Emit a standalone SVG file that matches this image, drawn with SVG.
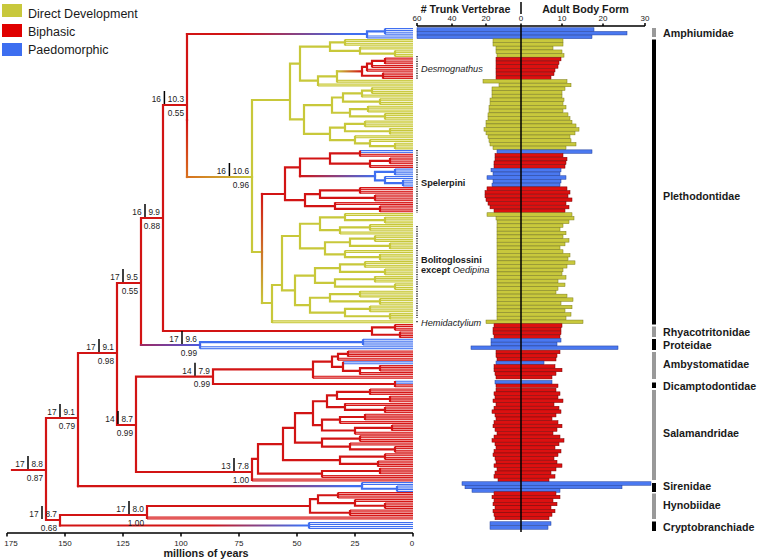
<svg xmlns="http://www.w3.org/2000/svg" width="757" height="560" viewBox="0 0 757 560">
<style>
.t{font-family:"Liberation Sans",Arial,sans-serif;fill:#1a1a1a}
.br{fill:none;stroke-width:2.2;stroke-linecap:square}
.y{stroke:#c8c83a}.r{stroke:#d21414}.b{stroke:#3f6ff0}
.to{fill:none;stroke-width:3}.ti{fill:none;stroke-width:1}
.yo{stroke:#c6c63c}.yi{stroke:#ecec9a}
.ro{stroke:#d41818}.ri{stroke:#f49a9a}
.bo{stroke:#3f6ff0}.bi{stroke:#dbe5ff}
.bY{fill:#c8c83c;stroke:#7d7d1a;stroke-width:.5}
.bR{fill:#dc1010;stroke:#7a0000;stroke-width:.5}
.bB{fill:#4a78f0;stroke:#1e3c9a;stroke-width:.5}
.ax{stroke:#000;stroke-width:1.5;fill:none}
.nb{stroke:#000;stroke-width:1.5}
.nl{font-size:8.3px}
.fl{font-size:10.7px;font-weight:bold}
.cl{font-size:9.2px}
.gr{fill:#999}.bk{fill:#000}
</style>
<defs>
<linearGradient id="gAm" gradientUnits="userSpaceOnUse" x1="187" y1="0" x2="367" y2="0"><stop offset="0.3" stop-color="#d21414"/><stop offset="0.9" stop-color="#3f6ff0"/></linearGradient>
<linearGradient id="gSi" gradientUnits="userSpaceOnUse" x1="78" y1="0" x2="362" y2="0"><stop offset="0.55" stop-color="#d21414"/><stop offset="0.95" stop-color="#3f6ff0"/></linearGradient>
<linearGradient id="gCr" gradientUnits="userSpaceOnUse" x1="60" y1="0" x2="309" y2="0"><stop offset="0.6" stop-color="#d21414"/><stop offset="0.97" stop-color="#3f6ff0"/></linearGradient>
<linearGradient id="gPr" gradientUnits="userSpaceOnUse" x1="141" y1="0" x2="200" y2="0"><stop offset="0" stop-color="#a02860"/><stop offset="1" stop-color="#4a5ae0"/></linearGradient>
<linearGradient id="gFv" gradientUnits="userSpaceOnUse" x1="0" y1="120" x2="0" y2="177"><stop offset="0" stop-color="#d21414"/><stop offset="1" stop-color="#d8701e"/></linearGradient>
<linearGradient id="gPl" gradientUnits="userSpaceOnUse" x1="187" y1="0" x2="252" y2="0"><stop offset="0" stop-color="#d8701e"/><stop offset="1" stop-color="#c8c83a"/></linearGradient>
<linearGradient id="gK" gradientUnits="userSpaceOnUse" x1="0" y1="194" x2="0" y2="303"><stop offset="0" stop-color="#d21414"/><stop offset="1" stop-color="#c8c83a"/></linearGradient>
<linearGradient id="gDe" gradientUnits="userSpaceOnUse" x1="337" y1="0" x2="362" y2="0"><stop offset="0" stop-color="#c8c83a"/><stop offset="1" stop-color="#d21414"/></linearGradient>
<linearGradient id="gSpb" gradientUnits="userSpaceOnUse" x1="300" y1="0" x2="375" y2="0"><stop offset="0" stop-color="#d21414"/><stop offset="1" stop-color="#3f6ff0"/></linearGradient>
<path id="tY" d="M345 40.6H413 M345 44.3H413 M360 48H413 M395 51.7H413 M395 55.4H413 M337 81.3H413 M318 85H413 M372 88.7H413 M372 92.4H413 M362 96.1H413 M380 99.8H413 M380 103.5H413 M368 107.2H413 M368 110.9H413 M385 114.6H413 M385 118.3H413 M365 122H413 M365 125.7H413 M390 129.4H413 M390 133.1H413 M355 136.8H413 M370 140.5H413 M395 144.2H413 M395 147.9H413 M345 214.5H413 M385 218.2H413 M385 221.9H413 M370 225.6H413 M370 229.3H413 M340 233H413 M375 236.7H413 M375 240.4H413 M390 244.1H413 M390 247.8H413 M345 251.5H413 M380 255.2H413 M380 258.9H413 M365 262.6H413 M365 266.3H413 M385 270H413 M385 273.7H413 M375 277.4H413 M375 281.1H413 M395 284.8H413 M395 288.5H413 M360 292.2H413 M360 295.9H413 M380 299.6H413 M380 303.3H413 M370 307H413 M370 310.7H413 M390 314.4H413 M390 318.1H413 M272 321.8H413"/>
<path id="tR" d="M385 59.1H413 M385 62.8H413 M372 66.5H413 M367 70.2H413 M383 73.9H413 M383 77.6H413 M360 155.3H413 M390 159H413 M390 162.7H413 M370 166.4H413 M360 188.6H413 M360 192.3H413 M375 196H413 M375 199.7H413 M335 203.4H413 M380 207.1H413 M380 210.8H413 M395 325.5H413 M395 329.2H413 M400 332.9H413 M400 336.6H413 M348 352H413 M348 355.6H413 M338 359.2H413 M380 366.4H413 M380 370H413 M360 373.6H413 M313 377.2H413 M395 385.8H413 M370 390H413 M370 393.6H413 M390 397.2H413 M390 400.8H413 M345 404.4H413 M385 408H413 M385 411.6H413 M365 415.2H413 M365 418.8H413 M340 422.4H413 M392 426H413 M392 429.6H413 M355 433.2H413 M360 436.8H413 M360 440.4H413 M350 444H413 M395 447.6H413 M395 451.2H413 M385 454.8H413 M385 458.4H413 M378 462H413 M378 465.6H413 M380 469.2H413 M380 472.8H413 M322 476.4H413 M252 480H413 M338 493.5H413 M338 497H413 M355 500.5H413 M385 504H413 M385 507.5H413 M350 511H413 M350 514.5H413 M147 518H413"/>
<path id="tB" d="M385 29.5H413 M385 33.2H413 M367 36.9H413 M360 151.6H413 M395 170.1H413 M395 173.8H413 M385 177.5H413 M403 181.2H413 M403 184.9H413 M363 340.3H413 M363 344H413 M200 347.7H413 M343 362.8H413 M395 382.2H413 M362 483.5H413 M397 487H413 M397 490.5H413 M309 523.5H413 M309 527.5H413"/>
</defs>
<rect width="757" height="560" fill="#fff"/>
<g id="legend">
<rect x="2" y="4" width="20" height="13" fill="#c8c83c"/>
<rect x="2" y="24" width="20" height="13" fill="#e00000"/>
<rect x="2" y="43" width="20" height="13" fill="#3d6ef0"/>
<text class="t" x="28" y="17.8" font-size="12.5">Direct Development</text>
<text class="t" x="28" y="36.2" font-size="12.5">Biphasic</text>
<text class="t" x="28" y="53.8" font-size="12.5">Paedomorphic</text>
</g>
<g id="time-axis">
<path class="ax" d="M7 533H413 M7 533V536.5 M65 533V536.5 M123 533V536.5 M181 533V536.5 M239 533V536.5 M297 533V536.5 M355 533V536.5 M413 533V536.5"/>
<g class="t" font-size="8" text-anchor="middle">
<text x="11" y="545.5">175</text><text x="65" y="545.5">150</text><text x="123" y="545.5">125</text><text x="181" y="545.5">100</text><text x="239" y="545.5">75</text><text x="297" y="545.5">50</text><text x="355" y="545.5">25</text><text x="412" y="545.5">0</text>
</g>
<text class="t" x="206" y="557" font-size="10.8" font-weight="bold" text-anchor="middle">millions of years</text>
</g>
<g id="tree">
<use href="#tY" class="to yo"/><use href="#tY" class="ti yi"/>
<use href="#tR" class="to ro"/><use href="#tR" class="ti ri"/>
<use href="#tB" class="to bo"/><use href="#tB" class="ti bi"/>
<path class="br y" d="M252 100V252 M252 100H290 M290 63.6V119.45 M290 63.6H300 M300 46.6V80.65 M300 46.6H330 M330 42.45V50.8 M330 42.45H345 M345 40.6V44.3 M330 50.8H360 M360 48V53.55 M360 53.55H395 M395 51.7V55.4 M300 80.65H318 M318 76.3V85 M318 76.3H337 M337 71.35V81.3 M290 119.45H304 M304 105.1V133.8 M304 105.1H332 M332 97.5V112.75 M332 97.5H343 M343 93.3V101.65 M343 93.3H362 M362 90.55V96.1 M362 90.55H372 M372 88.7V92.4 M343 101.65H380 M380 99.8V103.5 M332 112.75H350 M350 109.05V116.45 M350 109.05H368 M368 107.2V110.9 M350 116.45H385 M385 114.6V118.3 M304 133.8H330 M330 127.55V140.05 M330 127.55H345 M345 123.85V131.25 M345 123.85H365 M365 122V125.7 M345 131.25H390 M390 129.4V133.1 M330 140.05H355 M355 136.8V143.3 M355 143.3H370 M370 140.5V146.05 M370 146.05H395 M395 144.2V147.9 M252 252H262 M262 303H272 M272 285V321.8 M272 285H282 M282 236V290.35 M282 236H300 M300 223.75V248.3 M300 223.75H320 M320 217.3V230.2 M320 217.3H345 M345 214.5V220.05 M345 220.05H385 M385 218.2V221.9 M320 230.2H340 M340 227.45V233 M340 227.45H370 M370 225.6V229.3 M300 248.3H325 M325 242.25V254.3 M325 242.25H350 M350 238.55V245.95 M350 238.55H375 M375 236.7V240.4 M350 245.95H390 M390 244.1V247.8 M325 254.3H345 M345 251.5V257.05 M345 257.05H380 M380 255.2V258.9 M282 290.35H295 M295 275.55V305.15 M295 275.55H315 M315 268.15V282.95 M315 268.15H340 M340 264.45V271.85 M340 264.45H365 M365 262.6V266.3 M340 271.85H385 M385 270V273.7 M315 282.95H335 M335 279.25V286.65 M335 279.25H375 M375 277.4V281.1 M335 286.65H395 M395 284.8V288.5 M295 305.15H310 M310 297.75V312.55 M310 297.75H330 M330 294.05V301.45 M330 294.05H360 M360 292.2V295.9 M330 301.45H380 M380 299.6V303.3 M310 312.55H345 M345 308.85V316.25 M345 308.85H370 M370 307V310.7 M345 316.25H390 M390 314.4V318.1"/>
<path class="br r" d="M12 470H46 M46 418V520 M46 418H78 M78 353V486.1 M78 353H117 M117 283V425 M117 425H136 M136 376.7V472 M117 283H141 M141 218V345 M141 218H163 M163 105V331 M163 105H187 M187 34V120 M163 331H372 M46 520H60 M60 515V525.5 M60 515H147 M147 506V518 M147 506H310 M136 376.7H213 M213 369.45V384 M213 369.45H313 M213 384H395 M136 472H252 M252 458.9V480 M362 66.95V75.75 M362 66.95H367 M367 63.7V70.2 M367 63.7H372 M372 60.95V66.5 M372 60.95H385 M385 59.1V62.8 M362 75.75H383 M383 73.9V77.6 M262 194H285 M285 167.3V200.2 M285 167.3H300 M300 158.5V176.1 M300 158.5H330 M330 153.45V163.6 M330 153.45H360 M360 151.6V155.3 M330 163.6H370 M370 160.85V166.4 M370 160.85H390 M390 159V162.7 M285 200.2H305 M305 194.15V206.2 M305 194.15H320 M320 190.45V197.85 M320 190.45H360 M360 188.6V192.3 M320 197.85H375 M375 196V199.7 M305 206.2H335 M335 203.4V208.95 M335 208.95H380 M380 207.1V210.8 M372 327.35V334.75 M372 327.35H395 M395 325.5V329.2 M372 334.75H400 M400 332.9V336.6 M313 361.7V377.2 M313 361.7H332 M332 356.5V366.85 M332 356.5H338 M338 353.8V359.2 M338 353.8H348 M348 352V355.6 M332 366.85H343 M343 362.8V370.9 M343 370.9H360 M360 368.2V373.6 M360 368.2H380 M380 366.4V370 M395 382.2V385.8 M252 458.9H258 M258 444.05V473.7 M258 473.7H322 M322 471V476.4 M322 471H380 M380 469.2V472.8 M258 444.05H283 M283 427.9V460.2 M283 460.2H340 M340 456.6V463.8 M340 456.6H385 M385 454.8V458.4 M340 463.8H378 M378 462V465.6 M283 427.9H295 M295 413.2V442.65 M295 442.65H322 M322 438.6V446.7 M322 438.6H360 M360 436.8V440.4 M322 446.7H350 M350 444V449.4 M350 449.4H395 M395 447.6V451.2 M295 413.2H313 M313 401.25V425.1 M313 401.25H327 M327 395.4V407.1 M327 395.4H337 M337 391.8V399 M337 391.8H370 M370 390V393.6 M337 399H390 M390 397.2V400.8 M327 407.1H345 M345 404.4V409.8 M345 409.8H385 M385 408V411.6 M313 425.1H322 M322 419.7V430.5 M322 419.7H340 M340 417V422.4 M340 417H365 M365 415.2V418.8 M322 430.5H355 M355 427.8V433.2 M355 427.8H392 M392 426V429.6 M310 499.2V512.75 M310 499.2H318 M318 495.25V503.1 M318 495.25H338 M338 493.5V497 M318 503.1H355 M355 500.5V505.75 M355 505.75H385 M385 504V507.5 M310 512.75H350 M350 511V514.5"/>
<path class="br b" d="M367 31.35V36.9 M367 31.35H385 M385 29.5V33.2 M375 171.95V180.3 M375 171.95H395 M395 170.1V173.8 M375 180.3H385 M385 177.5V183.05 M385 183.05H403 M403 181.2V184.9 M200 342.15V347.7 M200 342.15H363 M363 340.3V344 M362 483.5V488.75 M362 488.75H397 M397 487V490.5 M309 523.5V527.5"/>
<path class="br" stroke="url(#gAm)" d="M187 34H367"/>
<path class="br" stroke="url(#gSi)" d="M78 486.1H362"/>
<path class="br" stroke="url(#gCr)" d="M60 525.5H309"/>
<path class="br" stroke="url(#gPr)" d="M141 345H200"/>
<path class="br" stroke="url(#gFv)" d="M187 120V177"/>
<path class="br" stroke="url(#gPl)" d="M187 177H252"/>
<path class="br" stroke="url(#gK)" d="M262 194V303"/>
<path class="br" stroke="url(#gDe)" d="M337 71.35H362"/>
<path class="br" stroke="url(#gSpb)" d="M300 176.1H375"/>
</g>
<g id="node-labels" class="t nl">
<g id="n-root"><text x="24.5" y="467" text-anchor="end">17</text><line class="nb" x1="28" y1="456" x2="28" y2="469"/><text x="43" y="467" text-anchor="end">8.8</text><text x="43" y="480.5" text-anchor="end">0.87</text></g>
<g id="n-b"><text x="56.5" y="415" text-anchor="end">17</text><line class="nb" x1="60" y1="404" x2="60" y2="417"/><text x="75" y="415" text-anchor="end">9.1</text><text x="75" y="428.5" text-anchor="end">0.79</text></g>
<g id="n-c"><text x="95.5" y="350" text-anchor="end">17</text><line class="nb" x1="99" y1="339" x2="99" y2="352"/><text x="114" y="350" text-anchor="end">9.1</text><text x="114" y="363.5" text-anchor="end">0.98</text></g>
<g id="n-g"><text x="114.5" y="422" text-anchor="end">14</text><line class="nb" x1="118" y1="411" x2="118" y2="424"/><text x="133" y="422" text-anchor="end">8.7</text><text x="133" y="435.5" text-anchor="end">0.99</text></g>
<g id="n-d"><text x="119.5" y="280" text-anchor="end">17</text><line class="nb" x1="123" y1="269" x2="123" y2="282"/><text x="138" y="280" text-anchor="end">9.5</text><text x="138" y="293.5" text-anchor="end">0.55</text></g>
<g id="n-e"><text x="141.5" y="215" text-anchor="end">16</text><line class="nb" x1="145" y1="204" x2="145" y2="217"/><text x="160" y="215" text-anchor="end">9.9</text><text x="160" y="228.5" text-anchor="end">0.88</text></g>
<g id="n-f"><text x="160.9" y="102" text-anchor="end">16</text><line class="nb" x1="164.4" y1="91" x2="164.4" y2="104"/><text x="184" y="102" text-anchor="end">10.3</text><text x="184" y="115.5" text-anchor="end">0.55</text></g>
<g id="n-pleth"><text x="225.9" y="174" text-anchor="end">16</text><line class="nb" x1="229.4" y1="163" x2="229.4" y2="176"/><text x="249" y="174" text-anchor="end">10.6</text><text x="249" y="187.5" text-anchor="end">0.96</text></g>
<g id="n-prot"><text x="178.5" y="342" text-anchor="end">17</text><line class="nb" x1="182" y1="331" x2="182" y2="344"/><text x="197" y="342" text-anchor="end">9.6</text><text x="197" y="355.5" text-anchor="end">0.99</text></g>
<g id="n-ad"><text x="191.5" y="373.7" text-anchor="end">14</text><line class="nb" x1="195" y1="362.7" x2="195" y2="375.7"/><text x="210" y="373.7" text-anchor="end">7.9</text><text x="210" y="387.2" text-anchor="end">0.99</text></g>
<g id="n-sal"><text x="230.5" y="469" text-anchor="end">13</text><line class="nb" x1="234" y1="458" x2="234" y2="471"/><text x="249" y="469" text-anchor="end">7.8</text><text x="249" y="482.5" text-anchor="end">1.00</text></g>
<g id="n-i"><text x="38.5" y="517" text-anchor="end">17</text><line class="nb" x1="42" y1="506" x2="42" y2="519"/><text x="57" y="517" text-anchor="end">8.7</text><text x="57" y="530.5" text-anchor="end">0.68</text></g>
<g id="n-j"><text x="125.5" y="512" text-anchor="end">17</text><line class="nb" x1="129" y1="501" x2="129" y2="514"/><text x="144" y="512" text-anchor="end">8.0</text><text x="144" y="525.5" text-anchor="end">1.00</text></g>
</g>
<g id="clade-labels" class="t cl">
<path d="M417 56V80 M417 150V213 M417 226V318 M417 321V322.6" stroke="#333" stroke-width="1.6" stroke-dasharray="1.2 1.2" fill="none"/>
<text x="421" y="71.5" font-style="italic">Desmognathus</text>
<text x="421" y="185.5" font-weight="bold">Spelerpini</text>
<text x="421" y="262.5" font-weight="bold">Bolitoglossini</text>
<text x="421" y="273" font-weight="bold">except <tspan font-weight="normal" font-style="italic">Oedipina</tspan></text>
<text x="421" y="325.5" font-style="italic">Hemidactylium</text>
</g>
<g id="bars">
<rect class="bB" x="417" y="27.75" width="177" height="3.5"/><rect class="bB" x="417" y="31.45" width="210" height="3.5"/><rect class="bB" x="417" y="35.15" width="175" height="3.5"/>
<rect class="bY" x="493" y="38.85" width="70" height="3.5"/><rect class="bY" x="493" y="42.55" width="70" height="3.5"/><rect class="bY" x="496" y="46.25" width="57" height="3.5"/><rect class="bY" x="496" y="49.95" width="66" height="3.5"/><rect class="bY" x="497" y="53.65" width="67" height="3.5"/>
<rect class="bR" x="496" y="57.35" width="65" height="3.5"/><rect class="bR" x="496" y="61.05" width="63" height="3.5"/><rect class="bR" x="496" y="64.75" width="62" height="3.5"/><rect class="bR" x="496" y="68.45" width="59" height="3.5"/><rect class="bR" x="496" y="72.15" width="58" height="3.5"/><rect class="bR" x="496" y="75.85" width="55" height="3.5"/>
<rect class="bY" x="483" y="79.55" width="84" height="3.5"/><rect class="bY" x="499" y="83.25" width="72" height="3.5"/><rect class="bY" x="492" y="86.95" width="73" height="3.5"/><rect class="bY" x="492" y="90.65" width="70" height="3.5"/><rect class="bY" x="492" y="94.35" width="70" height="3.5"/><rect class="bY" x="490" y="98.05" width="74" height="3.5"/><rect class="bY" x="490" y="101.75" width="73" height="3.5"/><rect class="bY" x="489" y="105.45" width="77" height="3.5"/><rect class="bY" x="489" y="109.15" width="74" height="3.5"/><rect class="bY" x="488" y="112.85" width="80" height="3.5"/><rect class="bY" x="488" y="116.55" width="82" height="3.5"/><rect class="bY" x="486" y="120.25" width="86" height="3.5"/><rect class="bY" x="486" y="123.95" width="90" height="3.5"/><rect class="bY" x="484" y="127.65" width="95" height="3.5"/><rect class="bY" x="486" y="131.35" width="89" height="3.5"/><rect class="bY" x="488" y="135.05" width="82" height="3.5"/><rect class="bY" x="489" y="138.75" width="82" height="3.5"/><rect class="bY" x="490" y="142.45" width="86" height="3.5"/><rect class="bY" x="493" y="146.15" width="73" height="3.5"/>
<rect class="bB" x="497" y="149.85" width="95" height="3.5"/><rect class="bR" x="495" y="153.55" width="68" height="3.5"/><rect class="bR" x="495" y="157.25" width="72" height="3.5"/><rect class="bR" x="494" y="160.95" width="72" height="3.5"/><rect class="bR" x="494" y="164.65" width="71" height="3.5"/>
<rect class="bB" x="491" y="168.35" width="70" height="3.5"/><rect class="bB" x="493" y="172.05" width="67" height="3.5"/><rect class="bB" x="487" y="175.75" width="79" height="3.5"/><rect class="bB" x="493" y="179.45" width="68" height="3.5"/><rect class="bB" x="492" y="183.15" width="68" height="3.5"/>
<rect class="bR" x="487" y="186.85" width="80" height="3.5"/><rect class="bR" x="485" y="190.55" width="85" height="3.5"/><rect class="bR" x="485" y="194.25" width="83" height="3.5"/><rect class="bR" x="486" y="197.95" width="86" height="3.5"/><rect class="bR" x="488" y="201.65" width="78" height="3.5"/><rect class="bR" x="490" y="205.35" width="79" height="3.5"/><rect class="bR" x="494" y="209.05" width="71" height="3.5"/>
<rect class="bY" x="487" y="212.75" width="85" height="3.5"/><rect class="bY" x="496" y="216.45" width="78" height="3.5"/><rect class="bY" x="497" y="220.15" width="72" height="3.5"/><rect class="bY" x="497" y="223.85" width="66" height="3.5"/><rect class="bY" x="497" y="227.55" width="63" height="3.5"/><rect class="bY" x="497" y="231.25" width="69" height="3.5"/><rect class="bY" x="497" y="234.95" width="66" height="3.5"/><rect class="bY" x="497" y="238.65" width="72" height="3.5"/><rect class="bY" x="497" y="242.35" width="68" height="3.5"/><rect class="bY" x="497" y="246.05" width="63" height="3.5"/><rect class="bY" x="497" y="249.75" width="66" height="3.5"/><rect class="bY" x="497" y="253.45" width="73" height="3.5"/><rect class="bY" x="497" y="257.15" width="71" height="3.5"/><rect class="bY" x="497" y="260.85" width="78" height="3.5"/><rect class="bY" x="497" y="264.55" width="70" height="3.5"/><rect class="bY" x="497" y="268.25" width="66" height="3.5"/><rect class="bY" x="497" y="271.95" width="65" height="3.5"/><rect class="bY" x="497" y="275.65" width="69" height="3.5"/><rect class="bY" x="497" y="279.35" width="61" height="3.5"/><rect class="bY" x="497" y="283.05" width="68" height="3.5"/><rect class="bY" x="497" y="286.75" width="61" height="3.5"/><rect class="bY" x="497" y="290.45" width="59" height="3.5"/><rect class="bY" x="497" y="294.15" width="70" height="3.5"/><rect class="bY" x="497" y="297.85" width="76" height="3.5"/><rect class="bY" x="497" y="301.55" width="64" height="3.5"/><rect class="bY" x="497" y="305.25" width="75" height="3.5"/><rect class="bY" x="497" y="308.95" width="68" height="3.5"/><rect class="bY" x="497" y="312.65" width="74" height="3.5"/><rect class="bY" x="497" y="316.35" width="69" height="3.5"/><rect class="bY" x="486" y="320.05" width="97" height="3.5"/>
<rect class="bR" x="494" y="323.75" width="68" height="3.5"/><rect class="bR" x="493" y="327.45" width="68" height="3.5"/><rect class="bR" x="493" y="331.15" width="68" height="3.5"/><rect class="bR" x="494" y="334.85" width="66" height="3.5"/>
<rect class="bB" x="491" y="338.55" width="70" height="3.5"/><rect class="bB" x="491" y="342.25" width="66" height="3.5"/><rect class="bB" x="471" y="345.95" width="147" height="3.5"/>
<rect class="bR" x="496" y="350.25" width="64" height="3.5"/><rect class="bR" x="496" y="353.85" width="61" height="3.5"/><rect class="bR" x="497" y="357.45" width="59" height="3.5"/><rect class="bB" x="496" y="361.05" width="48" height="3.5"/><rect class="bR" x="494" y="364.65" width="61" height="3.5"/><rect class="bR" x="494" y="368.25" width="68" height="3.5"/><rect class="bR" x="495" y="371.85" width="61" height="3.5"/><rect class="bR" x="496" y="375.45" width="56" height="3.5"/>
<rect class="bB" x="495" y="380.45" width="57" height="3.5"/><rect class="bR" x="496" y="384.05" width="62" height="3.5"/>
<rect class="bR" x="496" y="388.25" width="60" height="3.5"/><rect class="bR" x="494" y="391.85" width="66" height="3.5"/><rect class="bR" x="495" y="395.45" width="63" height="3.5"/><rect class="bR" x="493" y="399.05" width="70" height="3.5"/><rect class="bR" x="496" y="402.65" width="58" height="3.5"/><rect class="bR" x="494" y="406.25" width="65" height="3.5"/><rect class="bR" x="492" y="409.85" width="69" height="3.5"/><rect class="bR" x="495" y="413.45" width="61" height="3.5"/><rect class="bR" x="496" y="417.05" width="56" height="3.5"/><rect class="bR" x="494" y="420.65" width="64" height="3.5"/><rect class="bR" x="493" y="424.25" width="69" height="3.5"/><rect class="bR" x="495" y="427.85" width="62" height="3.5"/><rect class="bR" x="497" y="431.45" width="56" height="3.5"/><rect class="bR" x="494" y="435.05" width="66" height="3.5"/><rect class="bR" x="492" y="438.65" width="72" height="3.5"/><rect class="bR" x="495" y="442.25" width="64" height="3.5"/><rect class="bR" x="496" y="445.85" width="59" height="3.5"/><rect class="bR" x="494" y="449.45" width="67" height="3.5"/><rect class="bR" x="493" y="453.05" width="65" height="3.5"/><rect class="bR" x="495" y="456.65" width="59" height="3.5"/><rect class="bR" x="496" y="460.25" width="61" height="3.5"/><rect class="bR" x="494" y="463.85" width="68" height="3.5"/><rect class="bR" x="497" y="467.45" width="59" height="3.5"/><rect class="bR" x="495" y="471.05" width="56" height="3.5"/><rect class="bR" x="494" y="474.65" width="61" height="3.5"/><rect class="bR" x="498" y="478.25" width="51" height="3.5"/>
<rect class="bB" x="462" y="481.75" width="189" height="3.5"/><rect class="bB" x="465" y="485.25" width="157" height="3.5"/><rect class="bB" x="472" y="488.75" width="88" height="3.5"/>
<rect class="bR" x="494" y="491.75" width="62" height="3.5"/><rect class="bR" x="492" y="495.25" width="68" height="3.5"/><rect class="bR" x="494" y="498.75" width="59" height="3.5"/><rect class="bR" x="493" y="502.25" width="64" height="3.5"/><rect class="bR" x="495" y="505.75" width="56" height="3.5"/><rect class="bR" x="493" y="509.25" width="62" height="3.5"/><rect class="bR" x="494" y="512.75" width="58" height="3.5"/><rect class="bR" x="495" y="516.25" width="54" height="3.5"/>
<rect class="bB" x="490" y="521.75" width="61" height="3.5"/><rect class="bB" x="490" y="525.75" width="58" height="3.5"/>
</g>
<g id="trait-axis">
<text class="t" x="465.5" y="12.5" font-size="10.7" font-weight="bold" text-anchor="middle"># Trunk Vertebrae</text>
<text class="t" x="585.5" y="12.5" font-size="10.7" font-weight="bold" text-anchor="middle">Adult Body Form</text>
<path class="ax" d="M521 2V14 M417 26H645 M417 23V26 M452 23.5V26 M486 23.5V26 M521 23.5V26 M562 23.5V26 M603 23.5V26 M645 23V26 M521 26V532"/>
<g class="t" font-size="8" text-anchor="middle">
<text x="417" y="21">60</text><text x="452" y="21">40</text><text x="486" y="21">20</text><text x="521" y="21">0</text><text x="562" y="21">10</text><text x="603" y="21">20</text><text x="645" y="21">30</text>
</g>
</g>
<g id="families" class="t fl">
<g id="fam-amphiumidae"><rect class="gr" x="652" y="28" width="4" height="9"/><text x="663" y="37">Amphiumidae</text></g>
<g id="fam-plethodontidae"><rect class="bk" x="652" y="39.5" width="4" height="285"/><text x="663" y="200">Plethodontidae</text></g>
<g id="fam-rhyacotritonidae"><rect class="gr" x="652" y="326.5" width="4" height="10.5"/><text x="663" y="336">Rhyacotritonidae</text></g>
<g id="fam-proteidae"><rect class="bk" x="652" y="339" width="4" height="11"/><text x="663" y="349">Proteidae</text></g>
<g id="fam-ambystomatidae"><rect class="gr" x="652" y="352" width="4" height="27"/><text x="663" y="368">Ambystomatidae</text></g>
<g id="fam-dicamptodontidae"><rect class="bk" x="652" y="382.5" width="4" height="5.5"/><text x="663" y="390">Dicamptodontidae</text></g>
<g id="fam-salamandridae"><rect class="gr" x="652" y="390" width="4" height="90"/><text x="663" y="437">Salamandridae</text></g>
<g id="fam-sirenidae"><rect class="bk" x="652" y="483" width="4" height="9"/><text x="663" y="490">Sirenidae</text></g>
<g id="fam-hynobiidae"><rect class="gr" x="652" y="493.5" width="4" height="25.5"/><text x="663" y="509">Hynobiidae</text></g>
<g id="fam-cryptobranchiade"><rect class="bk" x="652" y="521.5" width="4" height="9.5"/><text x="663" y="531">Cryptobranchiade</text></g>
</g>
</svg>
